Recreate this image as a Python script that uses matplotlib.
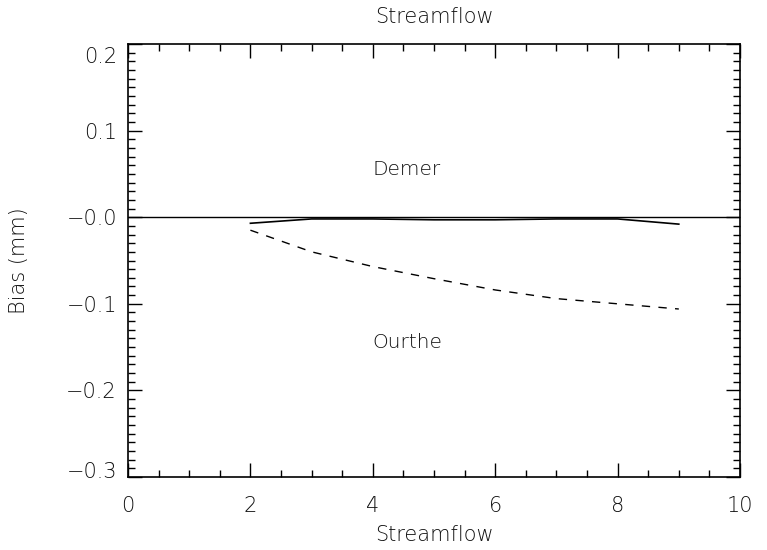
import matplotlib
matplotlib.use('Agg')
import matplotlib.pyplot as plt
import matplotlib.transforms as mtransforms
from matplotlib.ticker import MultipleLocator, FixedLocator
import numpy as np

# bias per streamflow class for the two catchments
flow_class = [2, 3, 4, 5, 6, 7, 8, 9]
demer_bias = [-0.007, -0.002, -0.002, -0.003, -0.003, -0.002, -0.002, -0.008]
ourthe_bias = [-0.015, -0.040, -0.057, -0.071, -0.084, -0.094, -0.100, -0.106]

yticks = [0.2, 0.1, 0.0, -0.1, -0.2, -0.3]
ytick_labels = ['0.2', '0.1', '\u22120.0', '\u22120.1', '\u22120.2', '\u22120.3']
xticks = [0, 2, 4, 6, 8, 10]

txt_color = '#111111'
plt.rcParams['font.family'] = ['DejaVu Sans']
plt.rcParams['font.weight'] = 'light'
plt.rcParams['axes.titleweight'] = 'light'
plt.rcParams['axes.labelweight'] = 'light'

fig = plt.figure(figsize=(7.67, 5.5), dpi=100)
ax = fig.add_axes([0.1669, 0.1327, 0.7979, 0.7873])

ax.axhline(0.0, color='black', lw=1.0)
ax.plot(flow_class, demer_bias, color='black', lw=1.2, ls='-')
ax.plot(flow_class, ourthe_bias, color='black', lw=1.0, ls=(0, (6, 6)))

ax.text(4.0, 0.055, 'Demer', fontsize=14.5, color=txt_color, va='center', ha='left')
ax.text(4.0, -0.145, 'Ourthe', fontsize=14.5, color=txt_color, va='center', ha='left')

ax.set_xlim(0, 10)
ax.set_ylim(-0.3, 0.2)
ax.xaxis.set_major_locator(FixedLocator(xticks))
ax.xaxis.set_minor_locator(MultipleLocator(0.5))
ax.yaxis.set_major_locator(FixedLocator(yticks))
ax.yaxis.set_minor_locator(MultipleLocator(0.01))
ax.set_yticklabels(ytick_labels)
ax.set_xticklabels([str(x) for x in xticks])

ax.tick_params(which='both', direction='in', top=True, right=True, width=1.0,
               colors='black', labelcolor=txt_color, labelsize=15)
ax.tick_params(which='major', length=10)
ax.tick_params(which='minor', length=5)
ax.tick_params(axis='x', which='major', pad=14)
ax.tick_params(axis='y', which='major', pad=8)
for sp in ax.spines.values():
    sp.set_linewidth(1.2)

# keep the end labels of the y axis inside the frame
labels = ax.get_yticklabels()
labels[0].set_transform(labels[0].get_transform() +
                        mtransforms.ScaledTranslation(0, -8 / 72, fig.dpi_scale_trans))
labels[-1].set_transform(labels[-1].get_transform() +
                         mtransforms.ScaledTranslation(0, 5 / 72, fig.dpi_scale_trans))

ax.set_title('Streamflow', fontsize=15, color=txt_color, pad=15)
ax.set_xlabel('Streamflow', fontsize=15, color=txt_color, labelpad=6)
ax.set_ylabel('Bias (mm)', fontsize=15, color=txt_color, labelpad=27)

fig.savefig('out.png', dpi=100)
